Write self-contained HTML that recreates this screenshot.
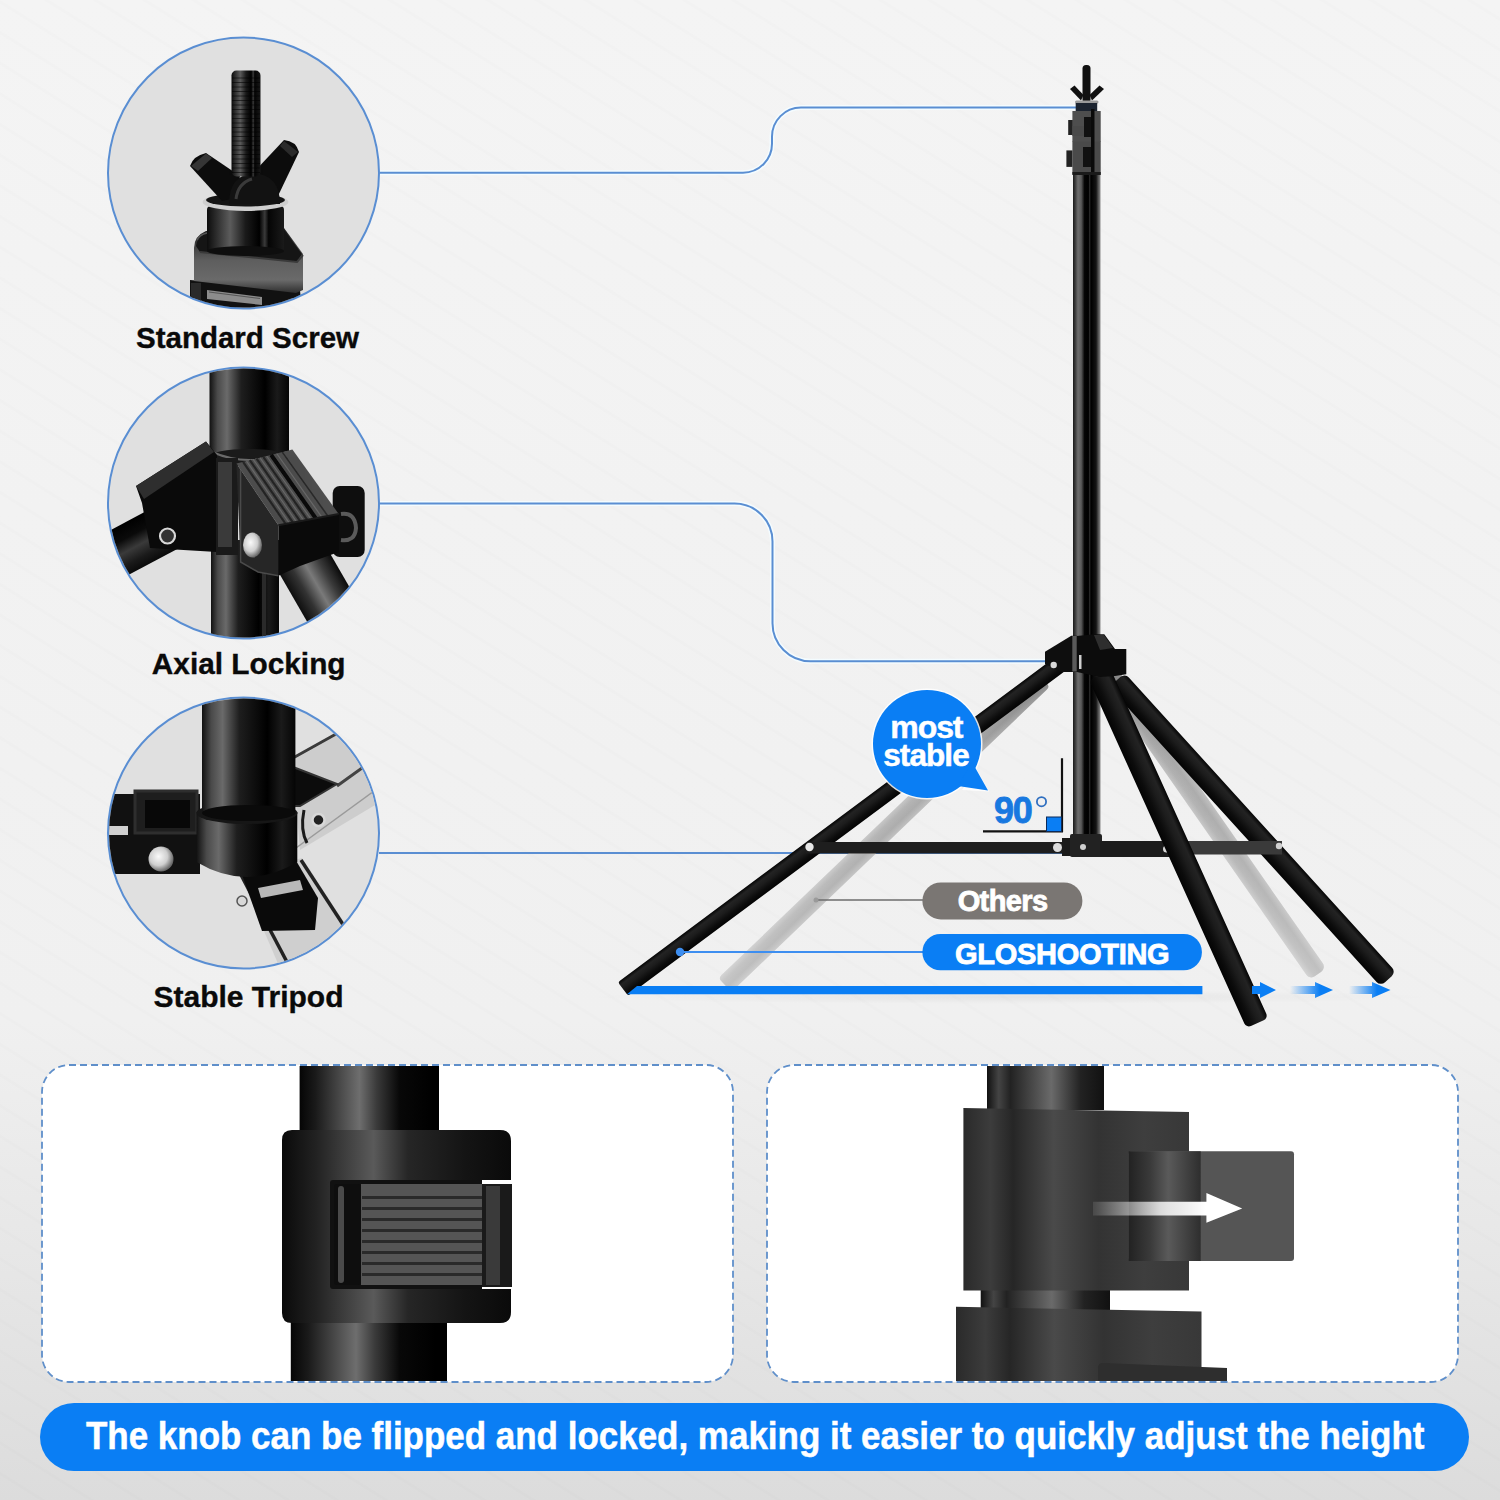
<!DOCTYPE html>
<html><head><meta charset="utf-8">
<style>
html,body{margin:0;padding:0;width:1500px;height:1500px;overflow:hidden;background:#f3f3f3}
svg{display:block;position:absolute;left:0;top:0}
text{font-family:"Liberation Sans",sans-serif;font-weight:bold}
</style></head><body>
<svg width="1500" height="1500" viewBox="0 0 1500 1500">
<defs>
  <linearGradient id="bg" x1="0" y1="0" x2="0" y2="1">
    <stop offset="0" stop-color="#f4f4f4"/>
    <stop offset="0.68" stop-color="#f0f0f0"/>
    <stop offset="0.85" stop-color="#e6e6e6"/>
    <stop offset="1" stop-color="#dcdcdc"/>
  </linearGradient>
  <pattern id="stripes" width="26" height="26" patternUnits="userSpaceOnUse" patternTransform="rotate(32)">
    <rect width="26" height="3" fill="#000" opacity="0.008"/>
  </pattern>
  <linearGradient id="tubeV" x1="0" y1="0" x2="1" y2="0">
    <stop offset="0" stop-color="#1a1a1a"/>
    <stop offset="0.08" stop-color="#3a3a3a"/>
    <stop offset="0.18" stop-color="#6e6e6e"/>
    <stop offset="0.3" stop-color="#5a5a5a"/>
    <stop offset="0.42" stop-color="#050505"/>
    <stop offset="0.56" stop-color="#000"/>
    <stop offset="0.6" stop-color="#262626"/>
    <stop offset="0.66" stop-color="#000"/>
    <stop offset="0.84" stop-color="#151515"/>
    <stop offset="0.95" stop-color="#6a6a6a"/>
    <stop offset="1" stop-color="#8a8a8a"/>
  </linearGradient>
  <linearGradient id="tubeL" x1="0" y1="0" x2="0" y2="1">
    <stop offset="0" stop-color="#050505"/>
    <stop offset="0.22" stop-color="#232323"/>
    <stop offset="0.45" stop-color="#1c1c1c"/>
    <stop offset="0.75" stop-color="#0c0c0c"/>
    <stop offset="1" stop-color="#040404"/>
  </linearGradient>
  <linearGradient id="ghostL" x1="0" y1="0" x2="0" y2="1">
    <stop offset="0" stop-color="#c4c4c4"/>
    <stop offset="0.3" stop-color="#b0b0b0"/>
    <stop offset="0.65" stop-color="#a8a8a8"/>
    <stop offset="1" stop-color="#bdbdbd"/>
  </linearGradient>
  <linearGradient id="ghostAlong" x1="0" y1="0" x2="1" y2="0">
    <stop offset="0" stop-color="#fff" stop-opacity="0.28"/>
    <stop offset="0.55" stop-color="#fff" stop-opacity="0.05"/>
    <stop offset="1" stop-color="#000" stop-opacity="0.22"/>
  </linearGradient>

  <linearGradient id="arrowFade" x1="1290" y1="0" x2="1320" y2="0" gradientUnits="userSpaceOnUse">
    <stop offset="0" stop-color="#0a7ef4" stop-opacity="0"/>
    <stop offset="1" stop-color="#0a7ef4"/>
  </linearGradient>
  <linearGradient id="arrowFade2" x1="1349" y1="0" x2="1377" y2="0" gradientUnits="userSpaceOnUse">
    <stop offset="0" stop-color="#0a7ef4" stop-opacity="0"/>
    <stop offset="1" stop-color="#0a7ef4"/>
  </linearGradient>

  <clipPath id="c1"><circle cx="243.5" cy="173" r="134.5"/></clipPath>
  <clipPath id="c2"><circle cx="243.5" cy="503" r="134.5"/></clipPath>
  <clipPath id="c3"><circle cx="243.5" cy="833" r="134.5"/></clipPath>
  <linearGradient id="gx" x1="0" y1="0" x2="1" y2="0">
    <stop offset="0" stop-color="#0c0c0c"/>
    <stop offset="0.12" stop-color="#2c2c2c"/>
    <stop offset="0.3" stop-color="#5c5c5c"/>
    <stop offset="0.5" stop-color="#1a1a1a"/>
    <stop offset="0.68" stop-color="#000"/>
    <stop offset="0.75" stop-color="#3a3a3a"/>
    <stop offset="0.8" stop-color="#050505"/>
    <stop offset="1" stop-color="#1a1a1a"/>
  </linearGradient>
  <linearGradient id="gx2" x1="0" y1="0" x2="1" y2="0">
    <stop offset="0" stop-color="#111"/>
    <stop offset="0.1" stop-color="#4a4a4a"/>
    <stop offset="0.22" stop-color="#6a6a6a"/>
    <stop offset="0.4" stop-color="#1e1e1e"/>
    <stop offset="0.7" stop-color="#000"/>
    <stop offset="0.85" stop-color="#1a1a1a"/>
    <stop offset="1" stop-color="#050505"/>
  </linearGradient>
  <linearGradient id="face" x1="0" y1="0" x2="0" y2="1">
    <stop offset="0" stop-color="#1a1a1a"/>
    <stop offset="0.5" stop-color="#5e5e5e"/>
    <stop offset="0.8" stop-color="#6a6a6a"/>
    <stop offset="1" stop-color="#2e2e2e"/>
  </linearGradient>
  <linearGradient id="tube45" x1="0" y1="0" x2="0" y2="1">
    <stop offset="0" stop-color="#0a0a0a"/>
    <stop offset="0.2" stop-color="#1a1a1a"/>
    <stop offset="0.45" stop-color="#3a3a3a"/>
    <stop offset="0.7" stop-color="#0a0a0a"/>
    <stop offset="1" stop-color="#000"/>
  </linearGradient>
  <radialGradient id="bolt" cx="0.4" cy="0.4" r="0.6">
    <stop offset="0" stop-color="#fafafa"/>
    <stop offset="0.6" stop-color="#cfcfcf"/>
    <stop offset="1" stop-color="#6a6a6a"/>
  </radialGradient>

  <clipPath id="b1"><rect x="43" y="1066" width="689" height="315" rx="26"/></clipPath>
  <clipPath id="b2"><rect x="768" y="1066" width="689" height="315" rx="26"/></clipPath>
  <linearGradient id="bt" x1="0" y1="0" x2="1" y2="0">
    <stop offset="0" stop-color="#050505"/>
    <stop offset="0.12" stop-color="#1a1a1a"/>
    <stop offset="0.45" stop-color="#6e6e6e"/>
    <stop offset="0.58" stop-color="#3a3a3a"/>
    <stop offset="0.75" stop-color="#080808"/>
    <stop offset="1" stop-color="#000"/>
  </linearGradient>
  <linearGradient id="bclamp" x1="0" y1="0" x2="1" y2="0">
    <stop offset="0" stop-color="#0a0a0a"/>
    <stop offset="0.15" stop-color="#222"/>
    <stop offset="0.4" stop-color="#5a5a5a"/>
    <stop offset="0.55" stop-color="#262626"/>
    <stop offset="0.8" stop-color="#141414"/>
    <stop offset="1" stop-color="#0a0a0a"/>
  </linearGradient>
  <linearGradient id="b2g" x1="0" y1="0" x2="1" y2="0">
    <stop offset="0" stop-color="#2a2a2a"/>
    <stop offset="0.12" stop-color="#3c3c3c"/>
    <stop offset="0.22" stop-color="#262626"/>
    <stop offset="0.4" stop-color="#4a4a4a"/>
    <stop offset="0.6" stop-color="#333"/>
    <stop offset="0.8" stop-color="#3e3e3e"/>
    <stop offset="1" stop-color="#383838"/>
  </linearGradient>
  <linearGradient id="b2t" x1="0" y1="0" x2="1" y2="0">
    <stop offset="0" stop-color="#111"/>
    <stop offset="0.1" stop-color="#444"/>
    <stop offset="0.2" stop-color="#222"/>
    <stop offset="0.55" stop-color="#6a6a6a"/>
    <stop offset="0.8" stop-color="#222"/>
    <stop offset="1" stop-color="#111"/>
  </linearGradient>
  <linearGradient id="knobL" x1="0" y1="0" x2="1" y2="0">
    <stop offset="0" stop-color="#222"/>
    <stop offset="0.3" stop-color="#3a3a3a"/>
    <stop offset="0.55" stop-color="#5a5a5a"/>
    <stop offset="1" stop-color="#2e2e2e"/>
  </linearGradient>
  <linearGradient id="arrowW" x1="1093" y1="0" x2="1206" y2="0" gradientUnits="userSpaceOnUse">
    <stop offset="0" stop-color="#fff" stop-opacity="0.1"/>
    <stop offset="0.6" stop-color="#fff" stop-opacity="0.8"/>
    <stop offset="1" stop-color="#fff"/>
  </linearGradient>
  <filter id="soft" x="-5%" y="-20%" width="110%" height="140%"><feGaussianBlur stdDeviation="0.9"/></filter>
  <radialGradient id="shadowG" cx="0.5" cy="0.5" r="0.5">
    <stop offset="0" stop-color="#000" stop-opacity="0.05"/>
    <stop offset="1" stop-color="#000" stop-opacity="0"/>
  </radialGradient>
  <linearGradient id="tubeLight" x1="0" y1="0" x2="0" y2="1">
    <stop offset="0" stop-color="#0a0a0a"/>
    <stop offset="0.25" stop-color="#3a3a3a"/>
    <stop offset="0.5" stop-color="#7a7a7a"/>
    <stop offset="0.75" stop-color="#333"/>
    <stop offset="1" stop-color="#0e0e0e"/>
  </linearGradient>
</defs>
<rect width="1500" height="1500" fill="url(#bg)"/>
<rect width="1500" height="1500" fill="url(#stripes)"/>

<!-- callout lines -->
<g fill="none" stroke="#f4fcff" stroke-width="5">
  <path d="M379,172.7 H743 A29,29 0 0 0 772,143.7 V136.6 A29,29 0 0 1 801,107.6 H1076"/>
  <path d="M379,503.5 H734 A38,38 0 0 1 772.5,541.5 V623 A38,38 0 0 0 810.5,661.3 H1054"/>
</g>
<g fill="none" stroke="#5a8ed2" stroke-width="2">
  <path d="M379,172.7 H743 A29,29 0 0 0 772,143.7 V136.6 A29,29 0 0 1 801,107.6 H1076"/>
  <path d="M379,503.5 H734 A38,38 0 0 1 772.5,541.5 V623 A38,38 0 0 0 810.5,661.3 H1054"/>
  <path d="M379,853 H1062"/>
</g>

<!-- circles -->
<g id="circles">
  <circle cx="243.5" cy="173" r="136.5" fill="#f6fcff"/>
  <circle cx="243.5" cy="503" r="136.5" fill="#f6fcff"/>
  <circle cx="243.5" cy="833" r="136.5" fill="#f6fcff"/>
  <circle cx="243.5" cy="173" r="135.5" fill="#e0e0e0" stroke="#5a8ed2" stroke-width="2"/>
  <circle cx="243.5" cy="503" r="135.5" fill="#e0e0e0" stroke="#5a8ed2" stroke-width="2"/>
  <circle cx="243.5" cy="833" r="135.5" fill="#e0e0e0" stroke="#5a8ed2" stroke-width="2"/>
</g>


<!-- circle 1 content -->
<g clip-path="url(#c1)">
  <!-- bottom clamp -->
  <path d="M190,280 L300,290 L302,312 L190,312 Z" fill="#111"/>
  <path d="M207,290 L262,297 L262,305 L207,299 Z" fill="#8c8c8c"/>
  <path d="M209,292 L260,298.5" stroke="#555" stroke-width="1.2"/>
  <rect x="191" y="283" width="10" height="30" fill="#2a2a2a"/>
  <!-- base plate -->
  <path d="M194,248 Q194,236 206,231 L284,228 L303,254 L303,290 L296,293 L194,281 Z" fill="url(#face)"/>
  <path d="M196,246 Q197,237 207,233 L284,230 L302,254 L297,262 L200,252 Z" fill="#151515"/>
  <path d="M197,240 Q199,235 207,233 L280,231" stroke="#555" stroke-width="1.5" fill="none"/>
  <path d="M200,252 L297,262 L303,255" stroke="#3a3a3a" stroke-width="2" fill="none"/>
  <!-- cylinder -->
  <rect x="207" y="206" width="77" height="46" rx="4" fill="url(#gx)"/>
  <ellipse cx="245.5" cy="251" rx="38.5" ry="5" fill="#0e0e0e"/>
  <!-- washer -->
  <ellipse cx="245.5" cy="202" rx="43" ry="9" fill="#cfcfcf"/>
  <ellipse cx="245.5" cy="200" rx="39.5" ry="6.5" fill="#141414"/>
  <!-- wings -->
  <path d="M190,166 Q193,156 206,153 L240,176 L236,198 L222,201 Z" fill="#0c0c0c"/>
  <path d="M191,166 L206,153.5 L212,158 L198,171 Z" fill="#353535"/>
  <path d="M299,152 Q296,141 284,140 L254,172 L262,190 L277,198 Z" fill="#0c0c0c"/>
  <path d="M284,141 L298,152 L292,157 L280,146 Z" fill="#2a2a2a"/>
  <!-- nut dome -->
  <path d="M229,204 Q229,175 254,173 Q280,175 280,204 Z" fill="#121212"/>
  <path d="M236,199 Q238,183 252,179" stroke="#3a3a3a" stroke-width="3" fill="none"/>
  <!-- screw -->
  <rect x="231.5" y="70.5" width="29" height="106" rx="5" fill="url(#gx)"/>
  <g stroke="#000" stroke-width="1.1" opacity="0.55">
    <path d="M232,78H260M232,82.5H260M232,87H260M232,91.5H260M232,96H260M232,100.5H260M232,105H260M232,109.5H260M232,114H260M232,118.5H260M232,123H260M232,127.5H260M232,132H260M232,136.5H260M232,141H260M232,145.5H260M232,150H260M232,154.5H260M232,159H260M232,163.5H260M232,168H260M232,172.5H260"/>
  </g>
</g>

<!-- circle 2 content -->
<g clip-path="url(#c2)">
  <!-- right lower leg -->
  <g transform="translate(294,545) rotate(60)"><rect x="0" y="-27" width="140" height="54" fill="url(#tubeLight)"/></g>
  <!-- left leg -->
  <g transform="translate(190,515) rotate(152)"><rect x="0" y="-24" width="120" height="48" fill="url(#tube45)"/></g>
  <!-- lower pole -->
  <rect x="211" y="540" width="68" height="110" fill="url(#gx2)"/>
  <rect x="262" y="540" width="4" height="110" fill="#2a2a2a"/>
  <!-- upper pole -->
  <rect x="209.5" y="360" width="79.5" height="100" fill="url(#gx2)"/>
  <ellipse cx="249" cy="457" rx="40" ry="8" fill="#1a1a1a"/>
  <path d="M212,452 Q249,468 287,452" stroke="#6a6a6a" stroke-width="2" fill="none"/>
  <!-- knob -->
  <rect x="332.7" y="486" width="32" height="71" rx="7" fill="#0e0e0e"/>
  <path d="M341,514 Q355,512 356,528 Q355,542 341,540" stroke="#5a5a5a" stroke-width="4" fill="none"/>
  <!-- left bracket -->
  <path d="M136,486 L206,441.5 L217,455 L217,552 L150,548 L142,503 Z" fill="#0a0a0a"/>
  <path d="M136,486 L206,441.5 L214,452 L144,499 Z" fill="#2e2e2e"/>
  <circle cx="167.5" cy="536" r="7.5" fill="#333" stroke="#d8d8d8" stroke-width="2.2"/>
  <rect x="216" y="458" width="22" height="97" fill="#1a1a1a"/>
  <rect x="218" y="462" width="14" height="85" fill="#3a3a3a"/>
  <!-- right bracket inner (black) -->
  <path d="M278.4,525.2 L338.7,514 L338.7,552 L300,566 L278.4,575.7 Z" fill="#0a0a0a"/>
  <!-- ridged top -->
  <path d="M236.4,463.6 L292.4,449.6 L338.7,514 L278.4,525.2 Z" fill="#4e4e4e"/>
  <path d="M243.1,461.9 L285.6,523.9" stroke="#262626" stroke-width="2.2"/><path d="M249.8,460.2 L292.9,522.5" stroke="#262626" stroke-width="2.2"/><path d="M256.6,458.6 L300.1,521.2" stroke="#262626" stroke-width="2.2"/><path d="M263.3,456.9 L307.3,519.8" stroke="#262626" stroke-width="2.2"/><path d="M271.1,454.9 L315.8,518.3" stroke="#0a0a0a" stroke-width="4"/><path d="M282.3,452.1 L327.8,516.0" stroke="#2a2a2a" stroke-width="1.6"/>
  <path d="M246.5,461.1 L289.3,523.2" stroke="#7a7a7a" stroke-width="1.2" opacity="0.6"/><path d="M253.2,459.4 L296.5,521.8" stroke="#7a7a7a" stroke-width="1.2" opacity="0.6"/><path d="M259.9,457.7 L303.7,520.5" stroke="#7a7a7a" stroke-width="1.2" opacity="0.6"/><path d="M266.6,456.0 L311.0,519.2" stroke="#7a7a7a" stroke-width="1.2" opacity="0.6"/><path d="M276.7,453.5 L321.8,517.1" stroke="#7a7a7a" stroke-width="1.2" opacity="0.6"/>
  <path d="M278.4,525.2 L338.7,514" stroke="#1a1a1a" stroke-width="2"/>
  <!-- front face -->
  <path d="M236.4,463.6 L278.4,525.2 L278.4,575.7 L258,572 L240.6,562 Z" fill="#262626"/>
  <path d="M240.6,470 L240.6,562 L258,572 L278.4,575.7" stroke="#4a4a4a" stroke-width="1.5" fill="none"/>
  <ellipse cx="252.5" cy="545" rx="9.5" ry="12.5" fill="url(#bolt)"/>
</g>

<!-- circle 3 content -->
<g clip-path="url(#c3)">
  <!-- upper right arm (light gray square tube) -->
  <path d="M293,760 L337,735 L400,700 L400,790 L300,850 L296,805 Z" fill="#cdcdcd"/>
  <path d="M293,758 L345,729 L400,700" stroke="#3a3a3a" stroke-width="3" fill="none"/>
  <path d="M337,786 L362,768 L400,745" stroke="#444" stroke-width="3" fill="none"/>
  <path d="M296,848 L385,783" stroke="#9a9a9a" stroke-width="1.5" fill="none"/>
  <path d="M293,767 L337,784 L300,806 L293,806 Z" fill="#0c0c0c" stroke="#333" stroke-width="2"/>
  <path d="M304,810 Q300,830 307,843" stroke="#1a1a1a" stroke-width="3" fill="none"/>
  <circle cx="318.5" cy="820" r="6" fill="#222" stroke="#d8d8d8" stroke-width="2.5"/>
  <!-- left arm -->
  <rect x="100" y="794" width="100" height="80" fill="#111"/>
  <rect x="100" y="826" width="28" height="9" fill="#d0d0d0"/>
  <rect x="135" y="791" width="62" height="42" fill="#1e1e1e" stroke="#2e2e2e" stroke-width="3"/>
  <rect x="145" y="800" width="45" height="28" fill="#080808"/>
  <circle cx="161" cy="859" r="12.5" fill="url(#bolt)"/>
  <!-- lower right arm -->
  <path d="M240,875 L302,858 L345,924 L340,980 L285,980 Z" fill="#cfcfcf"/>
  <path d="M240,873 L287,962" stroke="#222" stroke-width="3.5" fill="none"/>
  <path d="M301,860 L344,926" stroke="#222" stroke-width="3.5" fill="none"/>
  <path d="M235,855 L288,847 L318,898 L315,930 L262,931 Z" fill="#0a0a0a"/>
  <path d="M258,888 L300,880 L303,890 L261,898 Z" fill="#b8b8b8"/>
  <circle cx="242" cy="901" r="5" fill="#d8d8d8" stroke="#555" stroke-width="1.5"/>
  <!-- collar -->
  <path d="M196.5,812 L297.3,812 L297.3,862 Q247,892 196.5,862 Z" fill="url(#gx2)"/>
  <ellipse cx="247" cy="813" rx="50.5" ry="11" fill="#161616"/>
  <!-- pole -->
  <rect x="202" y="690" width="93.4" height="124" fill="url(#gx2)"/>
  <ellipse cx="248.7" cy="813" rx="46.7" ry="8" fill="#0a0a0a"/>
</g>

<!-- labels -->
<g fill="#0a0a0a" stroke="#0a0a0a" stroke-width="0.35" font-size="29.5" text-anchor="middle">
  <text x="247.5" y="348.4">Standard Screw</text>
  <text x="248.7" y="674.4" font-size="29.8">Axial Locking</text>
  <text x="248.5" y="1007.2" font-size="30">Stable Tripod</text>
</g>

<!-- bottom boxes -->
<rect x="42" y="1065" width="691" height="317" rx="27" fill="#fff" stroke="#5f8fca" stroke-width="1.8" stroke-dasharray="7 4"/>
<rect x="767" y="1065" width="691" height="317" rx="27" fill="#fff" stroke="#5f8fca" stroke-width="1.8" stroke-dasharray="7 4"/>


<!-- box 1 content -->
<g clip-path="url(#b1)">
  <rect x="299.6" y="1060" width="133" height="72" fill="url(#bt)"/>
  <rect x="432" y="1060" width="7" height="72" fill="#000"/>
  <rect x="290.8" y="1320" width="145" height="70" fill="url(#bt)"/>
  <rect x="435" y="1320" width="12" height="70" fill="#000"/>
  <path d="M292,1130 H500 Q511,1130 511,1141 V1180 H482 V1289 H511 V1312 Q511,1323 500,1323 H292 Q282,1323 282,1313 V1140 Q282,1130 292,1130 Z" fill="url(#bclamp)"/>
  <rect x="482" y="1184" width="30" height="103" fill="#1a1a1a"/>
  <rect x="486" y="1186" width="14" height="99" fill="#3a3a3a"/>
  <rect x="330" y="1180" width="152" height="109" rx="3" fill="#111"/>
  <rect x="334" y="1184" width="27" height="101" rx="3" fill="#0e0e0e"/>
  <rect x="338" y="1186" width="6" height="97" rx="3" fill="#4a4a4a"/>
  <rect x="361" y="1184" width="121" height="101" fill="#555"/>
  <g fill="#2a2a2a">
    <rect x="362" y="1196" width="120" height="3"/>
    <rect x="362" y="1207" width="120" height="3"/>
    <rect x="362" y="1218" width="120" height="3"/>
    <rect x="362" y="1229" width="120" height="3"/>
    <rect x="362" y="1240" width="120" height="3"/>
    <rect x="362" y="1251" width="120" height="3"/>
    <rect x="362" y="1262" width="120" height="3"/>
    <rect x="362" y="1273" width="120" height="3"/>
  </g>
</g>
<!-- box 2 content -->
<g clip-path="url(#b2)">
  <rect x="987" y="1060" width="117" height="50" fill="url(#b2t)"/>
  <rect x="980.7" y="1288" width="129.3" height="22" fill="url(#b2t)"/>
  <path d="M963.4,1108 L1189,1112 V1290.6 H963.4 Z" fill="url(#b2g)"/>
  <path d="M956,1306.7 L1201.5,1311.6 V1390 H956 Z" fill="url(#b2g)"/>
  <path d="M1098,1368 Q1098,1363 1103,1363 L1227,1368 V1385 H1098 Z" fill="#2e2e2e"/>
  <rect x="1128.7" y="1151.3" width="165.3" height="109.7" rx="3" fill="#555"/>
  <rect x="1128.7" y="1151.3" width="72" height="109.7" fill="url(#knobL)"/>
  <path d="M1093,1201.8 H1206.4 V1193 L1242.2,1208.6 L1206.4,1222.8 V1215.4 H1093 Z" fill="url(#arrowW)"/>
</g>

<!-- blue bar -->
<rect x="40" y="1403" width="1429" height="68" rx="34" fill="#0a7ef4"/>
<text transform="translate(86,1449.3) scale(0.9083,1)" x="0" y="0" font-size="38.5" fill="#fff" stroke="#fff" stroke-width="0.5">The knob can be flipped and locked, making it easier to quickly adjust the height</text>

<!-- TRIPOD -->
<g id="tripod">
  <!-- floor shadow -->
  <ellipse cx="1010" cy="997" rx="430" ry="7" fill="url(#shadowG)"/>
  <!-- ghost legs -->
  <g opacity="1">
    <g transform="translate(725,985) rotate(-43.8)"><rect x="0" y="-9.5" width="441" height="19" rx="4" fill="url(#ghostL)"/><rect x="0" y="-9.5" width="441" height="19" rx="4" fill="url(#ghostAlong)"/></g>
    <g transform="translate(1318,974) rotate(235.11)"><rect x="0" y="-10" width="362" height="20" rx="6" fill="url(#ghostL)"/><rect x="0" y="-10" width="362" height="20" rx="6" fill="url(#ghostAlong)"/></g>
  </g>
  <!-- back right leg -->
  <g transform="translate(1117,680) rotate(47.8)"><rect x="0" y="-10.5" width="404" height="21" rx="6" fill="url(#tubeL)"/></g>
  <!-- pole -->
  <rect x="1073" y="174" width="27.5" height="664" fill="url(#tubeV)"/>
  <!-- top: screw, wings, clamps -->
  <rect x="1082.5" y="65" width="8" height="38" rx="3.5" fill="#111"/>
  <path d="M1070,89 L1074.5,85.5 L1083.5,95 L1081,100.5 Z" fill="#111"/>
  <path d="M1104,89 L1099.5,85.5 L1089.5,95 L1092,100.5 Z" fill="#111"/>
  <rect x="1075" y="100.5" width="23.5" height="3" rx="1.5" fill="#9a9a9a"/>
  <rect x="1075.7" y="103" width="21.5" height="9" fill="#1c2430"/>
  <rect x="1072.4" y="111" width="28.3" height="31" fill="#4e4e4e"/>
  <rect x="1072.4" y="141.5" width="28.3" height="33" fill="#4a4a4a"/>
  <rect x="1068.2" y="120" width="4.5" height="15" fill="#222"/>
  <rect x="1066.4" y="150.4" width="6" height="16.5" fill="#222"/>
  <rect x="1072.4" y="126" width="20" height="10" fill="#4a4a4a"/>
  <rect x="1084" y="117" width="8" height="20" fill="#111"/>
  <rect x="1083" y="147" width="9" height="20" fill="#111"/>
  <rect x="1091" y="109" width="3.5" height="66" fill="#0a0a0a"/>
  <rect x="1072.4" y="172" width="28.3" height="3" fill="#1a1a1a"/>
  <!-- left leg -->
  <g transform="translate(623,989) rotate(-36.63)"><rect x="0" y="-8.5" width="550" height="17" rx="2.5" fill="url(#tubeL)"/></g>
  <!-- left brace -->
  <rect x="806" y="842" width="256" height="11.5" fill="#1e1e1e"/>
  <circle cx="809.5" cy="847" r="4.2" fill="#e8e8e8"/>
  <circle cx="1057.5" cy="847.5" r="4.5" fill="#dcdcdc"/>
  <!-- hub collar -->
  <rect x="1062" y="838" width="10" height="18" fill="#1a1a1a"/>
  <rect x="1070" y="834" width="32" height="23" rx="2" fill="#222"/>
  <circle cx="1083" cy="847" r="3" fill="#cfcfcf"/>
  <!-- right brace -->
  <path d="M1100,841 L1170,841 L1170,857 L1100,857 Z" fill="#1c1c1c"/>
  <path d="M1185,841 L1282,841 L1282,854.5 L1185,854.5 Z" fill="#3a3a3a"/>
  <circle cx="1166.5" cy="849" r="3.5" fill="#d8d8d8"/>
  <circle cx="1279" cy="846" r="3.2" fill="#d0d0d0"/>
  <!-- front right leg -->
  <g transform="translate(1100,675) rotate(65.68)"><rect x="0" y="-12" width="382" height="24" rx="5" fill="url(#tubeL)"/></g>
  <!-- hub brackets -->
  <path d="M1045,651.7 L1071.3,635.7 L1077,635.7 L1077,672 L1062,672 L1045,664 Z" fill="#0e0e0e"/>
  <rect x="1072.3" y="636" width="4.4" height="35.5" fill="#5a5a5a"/>
  <circle cx="1053.7" cy="665" r="3.2" fill="#d8d8d8"/>
  <path d="M1077,636 L1093.7,634.3 L1104.3,634.3 L1115,649 L1126.3,649 L1126.3,674.3 L1115,676 L1100,677 L1077,672 Z" fill="#0c0c0c"/>
  <path d="M1094,635 L1104,635 L1113,648 L1100,650 Z" fill="#2e2e2e"/>
  <rect x="1079" y="655" width="2.5" height="14" fill="#cfcfcf"/>
</g>

<g id="annot">
  <!-- Others / Gloshooting lines -->
  <path d="M816,900 H923" stroke="#6d6d6d" stroke-width="1.6"/>
  <circle cx="816" cy="900" r="2.5" fill="#9a9a9a"/>
  <path d="M680,952 H923" stroke="#3d8ef0" stroke-width="1.8"/>
  <circle cx="680" cy="952" r="4.2" fill="#3d8ef0"/>
  <!-- blue floor bar -->
  <path d="M627,994.2 L637,986 H1202.4 V994.2 Z" fill="#0a7ef4"/>
  <!-- arrows -->
  <path d="M1252,986 H1260 V982 L1276,990 L1260,998 V994 H1252 Z" fill="#0a7ef4"/>
  <path d="M1290,986 H1315 V982 L1333,990 L1315,998 V994 H1290 Z" fill="url(#arrowFade)"/>
  <path d="M1349,986 H1372 V982 L1390.5,990 L1372,998 V994 H1349 Z" fill="url(#arrowFade2)"/>
  <!-- pills -->
  <rect x="922.4" y="882.4" width="160" height="37" rx="18.5" fill="#7a7673"/>
  <text x="1002.6" y="910.5" font-size="29" fill="#fff" stroke="#fff" stroke-width="0.8" text-anchor="middle" letter-spacing="-0.6">Others</text>
  <rect x="922.4" y="934" width="279.5" height="36.3" rx="18" fill="#0a7ef4"/>
  <text x="1062.2" y="963.9" font-size="29" fill="#fff" stroke="#fff" stroke-width="0.8" text-anchor="middle" letter-spacing="-0.3">GLOSHOOTING</text>
  <!-- bubble -->
  <circle cx="927" cy="744" r="55.5" fill="#fff" opacity="0.85"/>
  <path d="M962,790 L989,791.5 L976,768 Z" fill="#fff" opacity="0.85"/>
  <circle cx="927" cy="744" r="54" fill="#0a7ef4"/>
  <path d="M958,786 L988,790.4 L972,762 Z" fill="#0a7ef4"/>
  <text x="926.4" y="737.6" font-size="32" fill="#fff" stroke="#fff" stroke-width="0.5" text-anchor="middle" letter-spacing="-1.1">most</text>
  <text x="926" y="765.6" font-size="31.5" fill="#fff" stroke="#fff" stroke-width="0.5" text-anchor="middle" letter-spacing="-0.9">stable</text>
  <!-- 90 deg -->
  <text x="994" y="822.7" font-size="36" fill="#1878e0" stroke="#1878e0" stroke-width="0.8" letter-spacing="-1.2">90</text>
  <circle cx="1041.5" cy="801.7" r="4.6" fill="none" stroke="#2f6fc0" stroke-width="1.8"/>
  <path d="M1062,758.3 V832.3 M983,831.3 H1063" stroke="#111" stroke-width="2.2" fill="none"/>
  <rect x="1046.5" y="817" width="15" height="14.5" fill="#0a7ef4" stroke="#0b2a5a" stroke-width="1"/>
</g>
</svg>
</body></html>
